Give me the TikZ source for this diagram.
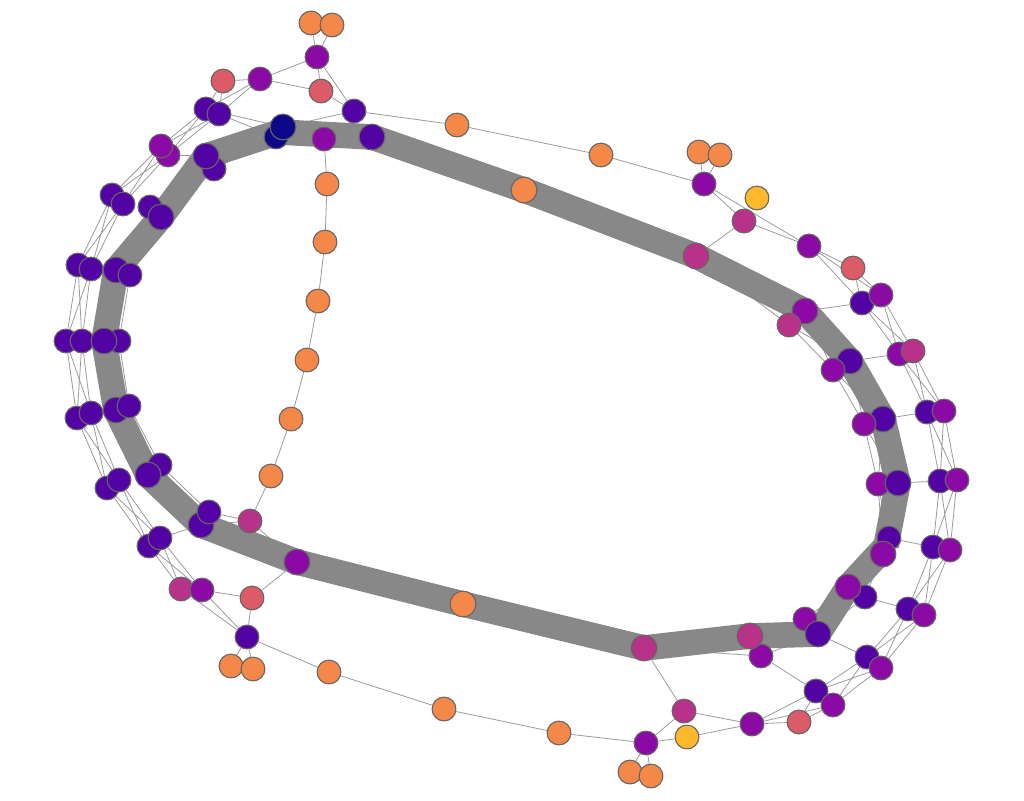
\documentclass[tikz,border=0pt]{standalone}
\usetikzlibrary{calc}
\pgfdeclarelayer{under}
\pgfdeclarelayer{bg}
\pgfdeclarelayer{edgelayer}
\pgfsetlayers{under,bg,edgelayer,main}
\definecolor{cnavy}{HTML}{0D0887}
\definecolor{cind}{HTML}{5302A3}
\definecolor{cpur}{HTML}{8B0AA5}
\definecolor{cmag}{HTML}{B83289}
\definecolor{cpink}{HTML}{DB5C68}
\definecolor{cora}{HTML}{F48849}
\definecolor{cyel}{HTML}{FEB82C}
\definecolor{cband}{HTML}{888888}
\definecolor{cedge}{HTML}{9A9A9A}
\definecolor{cborder}{HTML}{666666}
\tikzset{
  nd/.style={circle, draw=cborder, line width=0.55pt, inner sep=0pt, minimum size=11.9pt},
  bnd/.style={nd, minimum size=12.9pt},
  cN/.style={fill=cnavy}, cI/.style={fill=cind}, cP/.style={fill=cpur},
  cM/.style={fill=cmag}, cR/.style={fill=cpink}, cO/.style={fill=cora}, cY/.style={fill=cyel},
  bandline/.style={draw=cband, line width=12.8pt, line cap=butt},
  thinedge/.style={draw=cedge, line width=0.4pt}
}
\newcommand\xlink[4]{\draw[thinedge] (#1)--(#3) (#1)--(#4) (#2)--(#3) (#2)--(#4);}
\begin{document}
\begin{tikzpicture}[x=0.5pt,y=-0.5pt]
\useasboundingbox (0,0) rectangle (1024,800);
% ---- top cluster
\node[nd,cO] (o1) at (311,23) {};
\node[nd,cO] (o2) at (332,25) {};
\node[nd,cP] (t1) at (317,57) {};
\node[nd,cP] (t2) at (260,79) {};
\node[nd,cR] (t3) at (223,81) {};
\node[nd,cR] (t4) at (321,91) {};
\node[nd,cI] (t5) at (354,111) {};
% ---- left outer
\node[nd,cI] (a1) at (206,109) {};
\node[nd,cI] (a2) at (219,114) {};
\node[nd,cP] (b2) at (168,155) {};
\node[nd,cP] (b1) at (161,146) {};
\node[nd,cI] (c1) at (112,195) {};
\node[nd,cI] (c2) at (123,204) {};
\node[nd,cI] (d1) at (78,265) {};
\node[nd,cI] (d2) at (91,269) {};
\node[nd,cI] (e1) at (66,341) {};
\node[nd,cI] (e2) at (82,341) {};
\node[nd,cI] (f1) at (77,418) {};
\node[nd,cI] (f2) at (91,413) {};
\node[nd,cI] (g1) at (107,488) {};
\node[nd,cI] (g2) at (119,480) {};
\node[nd,cI] (h1) at (149,546) {};
\node[nd,cI] (h2) at (160,538) {};
\node[nd,cM] (i1) at (181,589) {};
\node[nd,cP] (i2) at (202,590) {};
% ---- left inner (band)
\node[nd,cI] (B1b) at (214,169) {};
\node[bnd,cI] (B1) at (206,156) {};
\node[nd,cI] (C1) at (150,207) {};
\node[bnd,cI] (C2) at (161,217) {};
\node[bnd,cI] (D1) at (116,270) {};
\node[nd,cI] (D2) at (130,275) {};
\node[nd,cI] (E2) at (119,341) {};
\node[bnd,cI] (E1) at (104,341) {};
\node[bnd,cI] (F1) at (116,410) {};
\node[nd,cI] (F2) at (129,406) {};
\node[nd,cI] (G2) at (160,465) {};
\node[bnd,cI] (G1) at (148,475) {};
\node[bnd,cI] (H1) at (201,525) {};
\node[nd,cI] (H2) at (209,512) {};
% ---- top band
\node[nd,cN] (N1) at (276,137) {};
\node[bnd,cN] (N2) at (283,127) {};
\node[nd,cP] (P1) at (324,139) {};
\node[bnd,cI] (P2) at (372,137) {};
% ---- orange chain
\node[nd,cO] (q1) at (327,184) {};
\node[nd,cO] (q2) at (325,242) {};
\node[nd,cO] (q3) at (318,301) {};
\node[nd,cO] (q4) at (307,360) {};
\node[nd,cO] (q5) at (291,419) {};
\node[nd,cO] (q6) at (271,476) {};
\node[nd,cM] (m1) at (250,521) {};
% ---- bottom left / bottom
\node[nd,cR] (pr1) at (252,598) {};
\node[nd,cI] (x1) at (247,637) {};
\node[nd,cO] (o3) at (231,666) {};
\node[nd,cO] (o4) at (253,669) {};
\node[nd,cO] (o5) at (329,672) {};
\node[nd,cO] (o6) at (444,709) {};
\node[nd,cO] (o7) at (559,733) {};
\node[nd,cP] (u1) at (646,743) {};
\node[nd,cO] (o8) at (630,772) {};
\node[nd,cO] (o9) at (651,776) {};
\node[nd,cM] (u2) at (684,711) {};
\node[nd,cY] (y2) at (687,737) {};
\node[nd,cP] (u3) at (752,724) {};
\node[nd,cR] (u4) at (799,722) {};
% ---- bottom band
\node[bnd,cP] (bp) at (297,562) {};
\node[bnd,cO] (bo) at (463,604) {};
\node[bnd,cM] (bm) at (644,648) {};
\node[nd,cP] (v1) at (761,656) {};
\node[bnd,cM] (bm2) at (750,636) {};
% ---- top right
\node[nd,cO] (o10) at (457,125) {};
\node[nd,cO] (o11) at (601,155) {};
\node[bnd,cO] (ob) at (524,190) {};
\node[nd,cO] (o12) at (699,152) {};
\node[nd,cO] (o13) at (720,155) {};
\node[nd,cP] (w1) at (704,184) {};
\node[nd,cY] (y1) at (757,198) {};
\node[nd,cM] (w2) at (744,221) {};
\node[bnd,cM] (R0) at (696,256) {};
% ---- right outer
\node[nd,cP] (r1a) at (809,246) {};
\node[nd,cR] (r1b) at (853,268) {};
\node[nd,cI] (ra1) at (862,303) {};
\node[nd,cP] (ra2) at (881,295) {};
\node[nd,cP] (rb1) at (899,354) {};
\node[nd,cM] (rb2) at (913,351) {};
\node[nd,cI] (rc1) at (927,412) {};
\node[nd,cP] (rc2) at (944,411) {};
\node[nd,cI] (rd1) at (940,481) {};
\node[nd,cP] (rd2) at (957,480) {};
\node[nd,cI] (re1) at (933,547) {};
\node[nd,cP] (re2) at (950,550) {};
\node[nd,cI] (rf1) at (908,609) {};
\node[nd,cP] (rf2) at (924,615) {};
\node[nd,cI] (rg1) at (867,657) {};
\node[nd,cP] (rg2) at (881,668) {};
\node[nd,cI] (rh1) at (816,691) {};
\node[nd,cP] (rh2) at (833,705) {};
% ---- right inner (band)
\node[bnd,cP] (Ra) at (805,311) {};
\node[nd,cM] (Rab) at (789,325) {};
\node[bnd,cI] (Rb) at (850,361) {};
\node[nd,cP] (Rbb) at (833,370) {};
\node[bnd,cI] (Rc) at (883,419) {};
\node[nd,cP] (Rcb) at (864,424) {};
\node[nd,cP] (Rdb) at (878,484) {};
\node[bnd,cI] (Rd) at (898,483) {};
\node[nd,cI] (Re) at (889,538) {};
\node[bnd,cP] (Reb) at (883,554) {};
\node[nd,cI] (Rfb) at (865,597) {};
\node[bnd,cP] (Rf) at (848,587) {};
\node[nd,cP] (Rgb) at (805,619) {};
\node[bnd,cI] (Rg) at (818,634) {};
% ---- helper coordinates for the band
\coordinate (Ntop) at ($(N1)!0.5!(N2)$);
\coordinate (Rmid) at ($(Re)!0.5!(Reb)$);
% ---- band
\begin{pgfonlayer}{bg}
\foreach \a/\b in {B1/Ntop, Ntop/P2, P2/ob, ob/R0, R0/Ra, Ra/Rb, Rb/Rc, Rc/Rd, Rd/Rmid, Rmid/Rf, Rf/Rg, Rg/bm2, bm2/bm, bm/bo, bo/bp, bp/H1, H1/G1, G1/F1, F1/E1, E1/D1, D1/C2, C2/B1}
  \draw[bandline] (\a.center)--(\b.center);
\end{pgfonlayer}
% ---- edges along the band (mostly hidden by it)
\begin{pgfonlayer}{under}
\xlink{B1}{B1b}{C1}{C2}
\xlink{C1}{C2}{D1}{D2}
\xlink{D1}{D2}{E1}{E2}
\xlink{E1}{E2}{F1}{F2}
\xlink{F1}{F2}{G1}{G2}
\xlink{G1}{G2}{H1}{H2}
\xlink{Ra}{Rab}{Rb}{Rbb}
\xlink{Rb}{Rbb}{Rc}{Rcb}
\xlink{Rc}{Rcb}{Rd}{Rdb}
\xlink{Rd}{Rdb}{Re}{Reb}
\xlink{Re}{Reb}{Rf}{Rfb}
\xlink{Rf}{Rfb}{Rg}{Rgb}
\draw[thinedge] (R0)--(Rab) (bm)--(v1) (v1)--(Rg) (v1)--(bm2) (Rgb)--(v1)
  (H2)--(m1) (H1)--(m1) (m1)--(bp) (B1b)--(N1) (a2)--(N1) (a1)--(N2) (t5)--(N2);
\end{pgfonlayer}
% ---- thin edges
\begin{pgfonlayer}{edgelayer}
\draw[thinedge] (o1)--(t1) (o2)--(t1) (o1)--(o2) (t1)--(t2) (t1)--(t4) (t1)--(t5)
  (t2)--(t3) (t2)--(t4) (t4)--(t5) (t5)--(o10)
  (P1)--(q1) (q1)--(q2) (q2)--(q3) (q3)--(q4) (q4)--(q5) (q5)--(q6) (q6)--(m1);
\xlink{t3}{t2}{a1}{a2}
\xlink{a1}{a2}{b1}{b2}
\xlink{b1}{b2}{c1}{c2}
\xlink{c1}{c2}{d1}{d2}
\xlink{d1}{d2}{e1}{e2}
\xlink{e1}{e2}{f1}{f2}
\xlink{f1}{f2}{g1}{g2}
\xlink{g1}{g2}{h1}{h2}
\xlink{h1}{h2}{i1}{i2}
\draw[thinedge] (b2)--(B1) (h2)--(H1);
\draw[thinedge] (bp)--(pr1)
  (pr1)--(i2) (pr1)--(x1) (i1)--(x1) (i2)--(x1) (x1)--(o3) (x1)--(o4) (o3)--(o4)
  (x1)--(o5) (o5)--(o6) (o6)--(o7) (o7)--(u1) (u1)--(o8) (u1)--(o9) (o8)--(o9)
  (u1)--(u2) (u1)--(y2) (u2)--(bm) (u2)--(u3) (y2)--(u3) (u3)--(u4)
  (v1)--(rh1) (Rg)--(rg1);
\xlink{u3}{u4}{rh1}{rh2}
\xlink{rg1}{rg2}{rh1}{rh2}
\xlink{rf1}{rf2}{rg1}{rg2}
\xlink{re1}{re2}{rf1}{rf2}
\xlink{rd1}{rd2}{re1}{re2}
\xlink{rc1}{rc2}{rd1}{rd2}
\xlink{rb1}{rb2}{rc1}{rc2}
\xlink{ra1}{ra2}{rb1}{rb2}
\xlink{r1a}{r1b}{ra1}{ra2}
\draw[thinedge] (r1a)--(r1b) (w1)--(r1a) (w1)--(w2) (w2)--(r1a) (w2)--(R0)
  (w1)--(o11) (w1)--(o12) (w1)--(o13) (o12)--(o13) (o10)--(o11)
  (Ra)--(ra1) (Rb)--(rb1) (Rc)--(rc1) (Rd)--(rd1) (Re)--(re1) (Rfb)--(rf1);
\end{pgfonlayer}
\end{tikzpicture}
\end{document}
